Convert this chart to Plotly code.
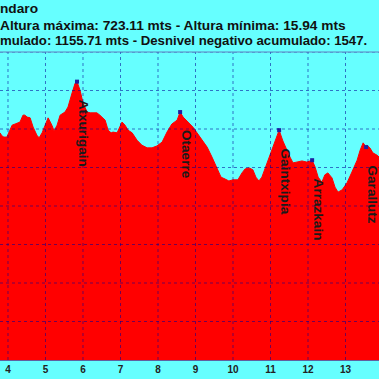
import plotly.graph_objects as go

# Profile data (km, altitude m)
km = [3.787, 3.84, 3.89, 3.97, 4.05, 4.11, 4.19, 4.32, 4.40, 4.45, 4.51, 4.59, 4.67, 4.77, 4.83,
      4.91, 4.99, 5.07, 5.17, 5.23, 5.31, 5.39, 5.52, 5.60, 5.71, 5.79, 5.84, 5.92, 6.00, 6.11,
      6.19, 6.37, 6.45, 6.59, 6.67, 6.75, 6.80, 6.91, 7.04, 7.12, 7.20, 7.31, 7.44, 7.57, 7.71,
      7.84, 7.97, 8.11, 8.24, 8.37, 8.51, 8.59, 8.67, 8.80, 8.93, 9.04, 9.17, 9.31, 9.44, 9.57,
      9.68, 9.79, 9.89, 10.00, 10.13, 10.24, 10.32, 10.43, 10.53, 10.61, 10.69, 10.77, 10.91, 11.04,
      11.15, 11.23, 11.33, 11.44, 11.52, 11.60, 11.73, 11.84, 11.97, 12.11, 12.19, 12.27, 12.37,
      12.45, 12.53, 12.64, 12.72, 12.80, 12.91, 13.04, 13.17, 13.31, 13.39, 13.47, 13.55, 13.57,
      13.65, 13.73, 13.84, 13.92]
alt = [590, 582, 579, 579, 597, 610, 613, 618, 636, 636, 631, 629, 605, 584, 577,
       590, 610, 629, 610, 595, 610, 636, 644, 657, 694, 719, 723, 701, 668, 644,
       642, 642, 636, 623, 597, 590, 592, 590, 618, 610, 597, 590, 571, 558, 551,
       551, 556, 566, 592, 613, 623, 644, 631, 618, 605, 590, 571, 553, 527, 501,
       475, 470, 465, 468, 468, 486, 496, 499, 494, 475, 465, 475, 512, 545,
       577, 597, 569, 543, 527, 512, 514, 517, 514, 519, 501, 475, 462,
       481, 486, 473, 449, 436, 442, 460, 488, 519, 545, 564, 553, 558,
       551, 538, 532, 525]

# Named points
pt_names = ["Atxurigain", "Otaerre", "Gaintxipia", "Arrazkain", "Garallutz"]
pt_km = [5.84, 8.59, 11.23, 12.11, 13.55]
pt_alt = [723, 644, 597, 519, 553]

x_ticks = [4, 5, 6, 7, 8, 9, 10, 11, 12, 13, 14]
y_grid = [100, 200, 300, 400, 500, 600, 700, 800]

title_lines = ["ndaro",
               "Altura máxima: 723.11 mts - Altura mínima: 15.94 mts",
               "mulado: 1155.71 mts - Desnivel negativo acumulado: 1547."]
title_sizes = [13.7, 13.7, 13.2]

BG = "#66FFFF"
GRID = "rgba(0,0,150,0.55)"
FONT = "Liberation Sans, Arial"

fig = go.Figure()
fig.add_trace(go.Scatter(x=km, y=alt, mode="lines", fill="tozeroy",
                         line=dict(color="#FF0000", width=1), fillcolor="#FF0000",
                         hoverinfo="skip", showlegend=False))
fig.add_trace(go.Scatter(x=pt_km, y=pt_alt, mode="markers",
                         marker=dict(color="#2020a0", size=4, symbol="square"),
                         showlegend=False))

shapes = []
for t in x_ticks:
    shapes.append(dict(type="line", xref="x", yref="paper", x0=t, x1=t, y0=0, y1=1,
                       line=dict(color=GRID, width=1, dash="dot"), layer="above"))
for g in y_grid:
    shapes.append(dict(type="line", xref="paper", yref="y", x0=0, x1=1, y0=g, y1=g,
                       line=dict(color=GRID, width=1, dash="dot"), layer="above"))

annotations = []
for n, xx, yy in zip(pt_names, pt_km, pt_alt):
    annotations.append(dict(x=xx, y=yy, xref="x", yref="y", text=n, showarrow=False,
                            textangle=90, xanchor="left", yanchor="top",
                            xshift=-3, yshift=-16,
                            font=dict(family=FONT, size=13.6, color="#1a1a1a", weight="bold")))
ys = [8, 25, 41]
for txt, py, fs in zip(title_lines, ys, title_sizes):
    annotations.append(dict(x=0, y=(360 - py) / 308, xref="paper", yref="paper", text=txt,
                            showarrow=False, xanchor="left", yanchor="middle", xshift=-2,
                            font=dict(family=FONT, size=fs, color="#111111", weight="bold")))

fig.update_layout(
    width=379, height=379,
    margin=dict(l=0, r=0, t=52, b=19),
    paper_bgcolor=BG, plot_bgcolor=BG,
    shapes=shapes, annotations=annotations,
    xaxis=dict(range=[3.787, 13.893], tickvals=x_ticks, showgrid=False, zeroline=False,
               showline=True, linecolor="#6060a0", linewidth=1,
               tickfont=dict(family=FONT, size=10, color="#222222", weight="bold"),
               ticks="", ticklen=0),
    yaxis=dict(range=[0, 800], showgrid=False, zeroline=False, showticklabels=False,
               showline=False),
)
fig.add_shape(type="line", xref="paper", yref="paper", x0=0, x1=1, y0=1, y1=1,
              line=dict(color="#6080c0", width=1))

fig.write_html("out.html", config={"displayModeBar": False},
               post_script="document.body.style.margin='0';document.body.style.overflow='hidden';")
